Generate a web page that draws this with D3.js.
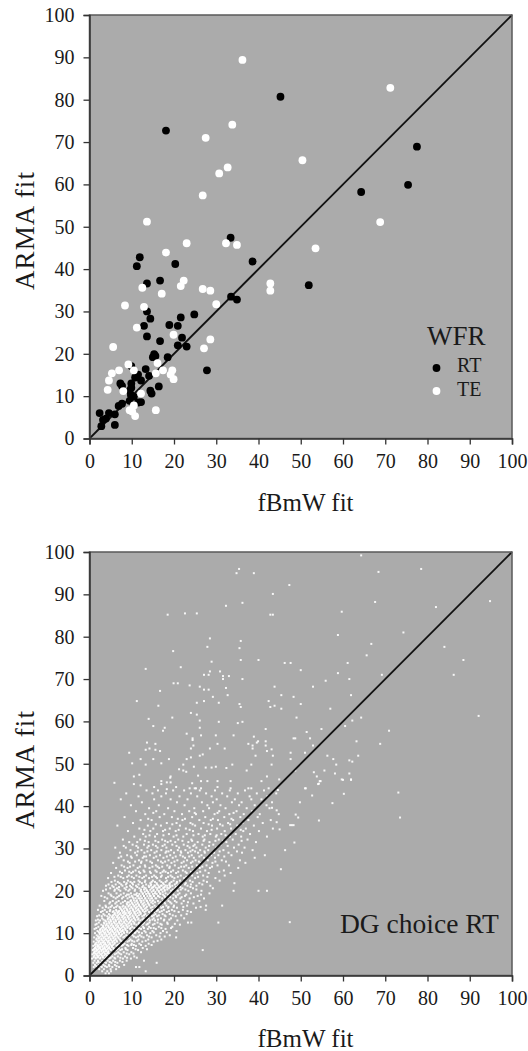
<!DOCTYPE html>
<html><head><meta charset="utf-8">
<script src="https://cdnjs.cloudflare.com/ajax/libs/d3/7.8.5/d3.min.js"></script>
<style>html,body{margin:0;padding:0;background:#fff}svg{display:block}text{font-family:"Liberation Serif",serif;fill:#1a1a1a}</style>
</head><body><svg id="c" width="528" height="1051"></svg>
<script>
const axisTicks = [0,10,20,30,40,50,60,70,80,90,100];
// WFR panel as [fBmW fit, ARMA fit]
const rtPoints = [[33.4,47.4],[38.6,41.8],[11.9,42.8],[11.2,40.7],[20.3,41.2],[13.6,36.6],[16.7,37.3],[33.5,33.5],[34.9,32.8],[13.6,30],[14.4,28.3],[24.8,29.3],[21.6,28.6],[18.9,26.8],[20.9,26.6],[12.9,26.6],[13.6,24.1],[16.7,23],[21.9,23.8],[20.9,22],[23,21.7],[15.3,19.9],[15,19.2],[15.6,19.5],[18.5,19.2],[27.8,16.1],[13.3,16.4],[9.9,17.1],[14.1,14.8],[11.5,15.1],[10.8,14.4],[12.2,13.7],[7.3,13],[7.7,12.4],[9.9,13],[9.9,12],[9.5,11.3],[16.4,12.3],[14.4,11.3],[14.7,10.6],[9.8,10.3],[9.5,8.9],[12.2,8.6],[11.5,8.5],[7.7,8.2],[6.9,7.7],[6,5.7],[4.6,6],[2.4,6],[3.9,4.7],[3.2,4.4],[2.8,2.9],[6,3.2],[10.5,9.9],[45.2,80.7],[18.1,72.7],[77.5,68.9],[75.4,59.9],[64.3,58.2],[51.9,36.2]];
const tePoints = [[13.6,51.2],[23,46.1],[32.3,46.1],[34.9,45.7],[18.1,43.9],[22.3,37.3],[21.6,36],[12.5,35.6],[26.8,35.3],[28.6,34.9],[17.1,34.2],[8.4,31.4],[12.9,31.1],[30,31.7],[42.8,36.6],[42.8,34.9],[11.2,26.2],[19.9,24.5],[28.6,23.4],[27.1,21.3],[5.6,21.6],[9.2,17.5],[16.1,17.8],[7,16.1],[5.3,15.4],[10.5,16.1],[17.4,16.1],[19.6,16.1],[15.7,15.4],[19.2,15.1],[19.9,14],[4.6,13.7],[4.3,11.5],[8,11.2],[12.2,10.6],[15.7,6.7],[10.5,7.8],[9.5,6.7],[10.1,6.4],[10.8,5.3],[36.2,89.4],[71.2,82.8],[33.8,74.1],[27.5,71],[50.4,65.7],[32.7,64],[30.7,62.6],[26.8,57.4],[68.8,51.1],[53.5,44.9]];
// DG choice panel: sparse points, read one by one
const dgSparse = [[64.3,99.2],[35.4,96],[34.8,95],[38.9,95],[68.4,95.3],[78.5,96],[47.3,92.2],[43.4,90.1],[67.6,88.2],[94.8,88.4],[36.2,88],[32.3,87.3],[82,87],[59.7,85.9],[18.5,85.2],[22.6,85.5],[25.4,85.5],[42.8,85.2],[43.4,85.2],[74.3,81],[58.8,80.4],[28.5,79.6],[35.8,79],[66.7,78.3],[27.9,77.6],[35.5,77.3],[84,77.6],[19.8,76.6],[65.6,75.6],[35.8,74.5],[40,74.5],[88.5,74.5],[28.9,74.1],[46.2,73.8],[47.6,73.8],[61.1,73.8],[21.6,72.8],[13.3,72.4],[50,72.1],[28.5,71.8],[30.9,71.8],[27.1,71],[28.2,71],[58.8,71.4],[86.2,71],[69.2,71],[31.6,70.7],[33,70.7],[31.6,70],[61.5,70],[36.2,70],[55.9,69.6],[19.9,69],[20.9,69],[23.7,68.5],[26.1,68.2],[32.3,67.9],[43.8,68.2],[52.9,68.2],[27.1,67.5],[28.2,67.5],[16.7,67.2],[45.4,66.2],[32.7,66.2],[29.2,65.8],[61.9,66.2],[48.3,65.8],[11.2,64.8],[25.4,64.4],[27.1,64.8],[30.6,64.4],[42.4,64.8],[50,64.1],[35.5,64.1],[35.8,63.4],[16.3,63.7],[42.8,63.4],[43.8,63.7],[45.4,63],[57,63],[24,62],[25.4,61.6],[92.1,61.3],[19.6,60.9],[49,60.9],[64.3,60.9],[14,60.6],[26.1,60.2],[30.6,59.9],[36.2,59.9],[35.1,59.6],[62.2,60.2],[15.1,58.9],[60.5,58.9],[26.1,58.5],[17.8,58.5],[17.4,57.8],[41.7,58.2],[54.9,58.2],[70.9,57.8],[51.4,57.5],[23,57.1],[26.4,56.7],[29.9,56.7],[34.1,56.7],[38.9,56.4],[24.4,56],[24.4,55.6],[48.3,56],[48.7,56],[52.2,56],[39.9,55.3],[41.7,55.3],[63.2,55.3],[39.6,55],[13.6,55],[37.6,54.7],[15.6,54.7],[30.3,54.7],[38.6,54.3],[68.8,54.7],[24.6,54.3],[52.9,54.3],[41.7,54.3],[14.2,53.6],[13.3,53.3],[15.6,53.3],[24,53.6],[28.5,53.6],[32,53.6],[38.6,53.6],[42,53],[43.1,53.4],[16.7,53],[9.4,52.6],[47.6,52.6],[51,52.6],[26.8,52.2],[26.1,51.9],[39.3,51.9],[43.4,51.9],[56.3,51.9],[63.6,51.9],[12.1,51.1],[15.1,51.1],[18.8,51.1],[23,51.1],[24,51.5],[47.6,51.1],[57.7,51.1],[61.5,50.8],[62.2,50.5],[10.1,50.1],[13.3,49.8],[17,50.1],[22.2,49.8],[33.8,49.8],[38.3,49.8],[43.1,49.8],[58.4,49.8],[24.7,49.3],[27.5,49.1],[28.9,49.1],[29.9,49.3],[32.4,49],[21.2,48.7],[22.2,48.4],[22.9,48.1],[37.2,48.4],[48.7,48.4],[55.6,48.4],[53.1,48],[58.1,47.7],[61.5,47.7],[10.5,47],[11.8,47.4],[19.2,47],[25.7,47.2],[42,47],[53.8,47],[19.1,46.7],[59.7,46.3],[61.9,46.3],[44.9,46.3],[17,45.9],[19.2,45.6],[18.3,45.6],[26.4,45.9],[27.9,45.9],[30.3,45.9],[33.4,45.9],[40.7,45.9],[54.5,45.9],[5.9,45.5],[10.5,45.2],[24.3,45.4],[54.1,45.2],[12.1,44.9],[17,45.2],[15.3,44.5],[20.5,44.5],[30.3,44.5],[26.4,44.2],[24.9,44.2],[25.2,44.2],[23.7,44.2],[33.4,44.2],[37.6,44.2],[38.3,44.2],[42.4,44.2],[51,44.2],[18.3,44],[73.1,43.2],[73.5,37.3],[60.2,42.9],[57.5,40.7],[54.3,36.6],[52.7,42.5],[51.2,44.2],[54.3,45.3],[54.7,45.9],[60,46.2],[61.9,46.2],[49.8,40.9],[48.8,38],[49.4,37.3],[43.2,39.6],[44.3,39],[44.3,36.2],[47.5,35.5],[47.9,35.5],[48.3,35.5],[45,34.5],[48.5,31.4],[46.3,29.6],[45.3,25.1],[47.4,12.6],[44.6,43.8]];
// DG choice panel: crowded part, estimated by eye row by row as [ARMA fit, fBmW fit, fBmW fit, ...]
const dgRows = [
[43.7,13.5,16.2,19.8,22.4,26.1,29.7,33.2,36.8,41.3],[43,8.7,14.9,18.1,24,27.6,31.4,35.1,39.6,44.2],[42.3,11.6,17,21.3,25.5,28.9,32.6,37.9,42.1],[41.6,7.4,15.3,19.2,23.2,30.1,34.4,38.3,40.7],[40.9,12.4,20.7,26.6,29.2,33.7,36,43.2],[40.2,9.8,16.4,22.5,27.9,31,35.4,39.1,41.9],[39.5,14.1,18.6,24.8,28.3,32.2,37.2,42.6],[38.8,11,15.8,20.1,23.6,26.9,30.7,34.8,38.5],[38.1,13.2,17.7,21.9,25.2,29.6,33.1,36.5,40.3,44.8],[37.4,8.3,16.6,19.5,24.3,27.4,31.9,35.7,39.8],[36.7,12.1,14.7,22,26,28.7,30.4,34,37.6,42.9],[36,10.3,18.3,20.6,23.9,27,32.8,36.2,41],[35.4,6.6,13.8,16.9,21.4,25,29,31.5,35,38.9],[34.7,11.8,15.1,19,22.8,26.4,30.2,33.5,37,43.4],[34.1,9.1,14.4,17.4,20.4,24.5,27.8,32,36.4,40.1],[33.4,12.7,16,18.8,23,25.8,28.6,31.2,34.6,38],[32.8,10.6,13.3,15.5,19.9,22.2,26.8,29.9,33.2,35.9,42],[32.1,7.9,12,17.2,21,24.1,27.2,30.6,33.9,37.4],[31.5,9.4,11.3,14,16.3,18.5,20.3,23.4,25.6,28.4,32.4,39.4],[30.9,10.2,12.9,15,17.8,19.6,22.3,24.9,26.7,29.3,31,35.3],[30.2,6.1,8.6,11.5,13.7,16.1,18.2,21.2,23.7,25.3,27.5,30,34.2,36.7],[29.6,9.7,12.3,14.6,17,19.3,20.9,22.7,24.4,26.2,28.1,31.7,38.6],[29,7.2,10.8,13,15.4,18,20,21.7,23.3,25.7,27.3,29.5,32.9,36.1],[28.4,8.9,11.2,14.3,16.7,19.1,21.5,24.2,26.5,28.8,30.5,33.6,41.5],[27.8,6.9,10,12.6,15.2,17.5,19.7,22.6,24.7,27.1,29.7,39.1],[27.2,8.1,11.7,13.5,16.2,18.7,20.8,23.1,25.1,28,31.3,35.6],[26.6,5.6,9.5,12.2,14.8,17.3,19.4,21.8,24,26.3,29.1,36.9],[26,7.6,10.4,13.1,15.7,18.4,20.2,22.9,25.4,27.7,30.3,33],[25.4,6.3,9,11.4,14.2,16.5,18.9,21.1,23.5,26.1,28.5,35.2],[24.8,8.4,10.9,12.8,15.6,17.6,19.8,22.1,24.6,27.4,31.8],[24.2,5.1,7.7,9.9,12,14.5,16.8,18.6,20.5,23,25.5,28.2,33.4],[23.6,6.8,9.3,11.1,13.4,15.3,17.1,19.2,21.6,24.3,26.9,32],[23,4.4,8,10.5,12.5,14.1,16,18.1,20.1,22.4,25,29.8],[22.4,6,9.1,11.6,13.2,15,16.6,18.3,19.9,21.4,23.8,27,30.8],[21.8,7.1,8.8,10.1,12.4,14.4,15.9,17.4,19,20.6,22.8,26,34.3],[21.2,3.9,5.4,7.8,9.6,11,12.7,14,15.4,16.9,18.4,19.6,21,23.2,25.3,28.6],[20.6,4.9,6.5,8.3,10.2,11.8,13.3,14.7,16.1,17.5,18.8,20.3,22,24.5,29.2],[20,3.2,5.9,7.3,9.2,10.7,12.1,13.6,15.1,16.4,17.8,19.3,20.9,23.4,26.5,34.1,40,42],[19.4,4.5,6.4,8.1,9.8,11.2,12.6,13.9,15.5,16.7,18,19.1,21.3,24,28.4],[18.8,2.8,5.2,7,8.6,10,11.5,12.9,14.3,15.2,16.3,17.7,18.9,20.4,22.6,25.6],[18.2,4.2,6.2,7.7,9,10.4,11.9,13.2,14.6,15.8,17.2,18.5,19.8,21.5,23.7,27.1],[17.6,3.5,5.5,6.9,8.4,9.7,11.1,12.3,13.6,14.9,16.2,17.4,18.7,20.2,22.3,26],[17,4.7,6.1,7.4,8.8,10.1,11.4,12.7,13.9,15,16.5,17.9,19.4,21.8,24.6],[16.5,2.4,3.8,5.3,6.6,8,9.3,10.6,11.7,12.9,14.2,15.4,16.7,18.2,20,23.1,27.6,31.4],[16,3.1,4.5,5.8,7.2,8.5,9.9,11,12.2,13.4,14.5,15.7,17,18.6,20.7,25.2],[15.5,2,3.6,4.9,6.3,7.6,8.9,10.3,11.5,12.6,13.7,14.9,16.2,17.6,19.5,22.1,27.5],[15,2.7,4.1,5.5,6.8,8.2,9.4,10.7,11.9,13,14.1,15.3,16.6,18.3,21.1,24],[14.5,3.3,4.6,5.9,7.1,8.4,9.6,10.9,12.1,13.2,14.4,15.6,17.3,19,23],[14,1.8,2.9,4.2,5.4,6.6,7.9,9.1,10.2,11.3,12.5,13.6,14.8,16,18,20.4],[13.5,3,4.4,5.6,6.9,8.1,9.3,10.5,11.6,12.8,14,15.2,16.9,19.3,22.4],[13,1.5,2.5,3.7,5,6.2,7.4,8.6,9.8,10.9,12,13.1,14.3,15.5,17.6,20.8],[12.5,2.2,3.4,4.7,5.8,7,8.2,9.4,10.6,11.7,12.9,14.2,16.1,18.4,23.3,24.1,30.5],[12,1.4,2.8,4,5.2,6.4,7.6,8.8,9.9,11.1,12.3,13.5,15,17.1,21.4],[11.5,2.1,3.2,4.5,5.6,6.7,7.9,9,10.1,11.4,12.7,14.1,16.4,19.6],[11,1.2,2.6,3.8,5,6.1,7.3,8.5,9.6,10.8,12.2,13.8,15.7,18],[10.5,1.9,3.1,4.3,5.4,6.6,7.7,8.9,10,11.3,13,14.9,17.4,20.6],[10,1.3,2.4,3.6,4.8,5.9,7,8.2,9.5,10.7,12.4,14.4,16.8],[9.5,1.7,3,4.1,5.2,6.3,7.5,8.7,10.2,11.9,13.6,15.8,19],[9,1.1,2.3,3.4,4.6,5.7,6.8,8,9.3,11,12.8,14.7,20.5],[8.5,1.6,2.8,3.9,5,6.1,7.2,8.4,9.7,11.6,13.9,17],[8,1,2.2,3.3,4.4,5.5,6.5,7.7,9,10.6,12.5,15.2],[7.5,1.4,2.6,3.7,4.8,5.9,7.1,8.3,10,11.8,14],[7,0.9,2,3.1,4.2,5.3,6.4,7.6,9.2,11,13.3],[6.5,1.3,2.4,3.5,4.6,5.7,6.9,8.5,10.3,12.6],[6,0.8,1.8,2.9,4,5.1,6.2,7.3,9,11.5,26.8],[5.5,1.1,2.2,3.3,4.4,5.6,6.8,8.1,9.9,12.2],[5,0.7,1.6,2.7,3.8,4.9,6,7.5,9.4],[4.5,1,2,3.1,4.2,5.4,6.7,8.4,10.6],[4,0.6,1.5,2.5,3.6,4.7,6.1,7.9,9.8],[3.5,1.2,2,3,4.3,5.6,7.2,8.8,12.9],[3,0.9,1.7,2.6,3.9,5.2,6.6,15.9],[2.5,1.3,2.2,3.3,4.6,6,8.2],[2,1,1.8,2.9,4.1,5.4,7,11,11.8],[1.5,2.3,3.4,5,6.3],[1,3,4.2,5.1,13.3],[0.5,3.8,4.6]];
// white core just above the diagonal, estimated by eye the same way
const dgCoreRows = [
[4.25,1,1.5,2,2.6,3.2,3.9],[4.75,1.2,1.8,2.3,2.9,3.5,4.1],[5.25,1,1.4,1.9,2.4,3,3.6,4.2],[5.75,1.3,1.7,2.3,2.8,3.4,3.9,4.5],[6.25,1.1,1.6,2.1,2.6,3.2,3.7,4.3,4.9],[6.75,1.5,2,2.5,3,3.6,4.1,4.7,5.3],[7.25,1.3,1.8,2.3,2.8,3.4,3.9,4.5,5,5.6],[7.75,1.6,2.1,2.7,3.2,3.7,4.3,4.8,5.4,6],[8.25,1.9,2.4,3,3.5,4.1,4.6,5.2,5.8,6.4],[8.75,1.7,2.2,2.8,3.3,3.8,4.4,5,5.6,6.2,6.9],[9.25,2,2.6,3.1,3.7,4.2,4.8,5.4,6,6.6,7.3],[9.75,2.4,2.9,3.5,4,4.6,5.2,5.8,6.4,7,7.7],[10.25,2.2,2.7,3.3,3.8,4.4,5,5.6,6.2,6.8,7.4,8.1],[10.75,2.5,3.1,3.6,4.2,4.8,5.4,6,6.6,7.2,7.9,8.5],[11.25,2.9,3.4,4,4.6,5.2,5.8,6.4,7,7.6,8.3,9],[11.75,3.2,3.8,4.4,5,5.6,6.2,6.8,7.4,8.1,8.7,9.4],[12.25,3.5,4.1,4.7,5.3,6,6.6,7.2,7.8,8.5,9.2,9.9],[12.75,3.9,4.5,5.1,5.7,6.3,7,7.6,8.2,8.9,9.6,10.3],[13.25,4.3,4.9,5.5,6.1,6.7,7.3,8,8.6,9.3,10,10.8],[13.75,4.7,5.3,5.9,6.5,7.1,7.7,8.4,9,9.7,10.5,11.2],[14.25,5.6,6.2,6.8,7.5,8.1,8.8,9.5,10.2,10.9,11.7],[14.75,6,6.6,7.3,7.9,8.6,9.2,9.9,10.6,11.4,12.1],[15.25,6.4,7,7.7,8.3,9,9.7,10.4,11.1,11.8,12.6],[15.75,7.4,8.1,8.8,9.5,10.2,10.9,11.6,12.3,13.1],[16.25,7.8,8.5,9.2,9.9,10.6,11.3,12,12.8,13.6],[16.75,8.9,9.6,10.3,11,11.7,12.5,13.3,14.1],[17.25,9.3,10,10.7,11.4,12.2,13,13.8,14.6],[17.75,9.8,10.5,11.2,12,12.8,13.5,14.3,15.1],[18.25,10.9,11.6,12.4,13.2,14,14.8,15.6],[18.75,11.3,12.1,12.9,13.7,14.5,15.3,16.2],[19.25,11.8,12.6,13.4,14.2,15,15.9,16.8],[19.75,12.3,13.1,13.9,14.7,15.6,16.4,17.3],[20.25,13.5,14.4,15.2,16,16.9,17.8],[20.75,13,14.9,15.7,16.6,17.5,18.4],[21.25,14.5,15.4,16.3,17.1,18,19]];
// further eye estimates with uneven gaps, between the rows above
const dgExtraRows = [
[38.4,15.1,24.9,30.3,34.1],[37,13.9,20.9,22.6,29.2,33.6],[35.7,15.7,19.6,24.4,28.2,30.9,33.3],[34.4,13,17.9,21.1,23.7,28.9,35.8],[33.1,14.2,17.5,20.6,24.6,27.3,30.1,32.2],[31.8,13.1,15.6,17.9,19.2,22,24.3,27,29.8,31.6,36],[30.6,8.1,11.1,14,15.7,17.3,20.6,23.2,24.6,28.3,32.7],[29.3,11.4,13.7,15.9,18.2,18.7,21.6,23.9,25,27.2,30.8,34.9],[28.1,7.5,9.8,12.9,13.4,15.8,18.3,20.4,22.1,23.6,26,28.2,31.9],[26.9,9.1,10.8,12.3,14.4,16.9,17.9,20.1,22.3,24.4,25.9,29.8,32.3],[25.7,8.2,9.6,11.9,13.2,14.9,16.1,17.2,19,21.7,22.4,24.3,26.7,29],[24.5,7.2,9.4,10.3,11.7,13,14.3,15.9,17.3,18,19.3,21,22.7,24,26.2,30.7],[23.3,5.9,7.4,8.9,10,11.8,12.9,14.8,15.7,16.9,18.6,19.6,20.9,22.9,25.7,27.9],[22.1,5.2,6.7,8.2,9.7,10.6,11.9,13.1,14.7,15.5,17,18,19.4,20.7,22.1,24.4,27.8],[21.5,4.5,6.2,7.5,8.6,10.3,11.6,13.4,14.6,16,17.6,18.9,20.2,22.6,24,26.7],[20.9,5.7,7,8.8,9.9,11.3,12.5,14.1,15.1,16.5,17.8,19.1,20.5,21.5,23.9],[20.3,3.9,6,6.9,8.6,9.5,10.8,12.2,12.9,17.1,18.4,19.7,21.6,22.7,25.3],[19.1,5,7.4,8.9,9.3,10.6,11,17.4,18.6,19.9,20.9,22.9,26.4],[18.5,3.6,5.7,6.6,8,9.5,10.2,16.6,17.9,19.1,20.5,21.8,24.7],[17.3,4.9,6.4,7.9,9,15.5,16.8,17.7,19.1,20.6,23.3],[16.2,3.9,5,6.3,7.1,14.9,16,17.4,18.7,19.9,22.2,26.3],[15.2,3.1,4.8,5.7,13.3,14.7,15.9,17.1,18.8,20.1,23.2],[14.2,2.3,3.6,4.9,12.9,14,15.2,16.4,17.8,19.7,21.7],[13.2,2,3.3,11.5,12.5,13.6,14.9,16.2,17.7,18.9],[12.2,1.7,10.6,11.6,12.6,13.8,15.4,16.8,18.5,20.2],[11.2,1.6,9.7,10.6,11.7,12.9,14.5,15.2,17,19.3],[10.2,8.9,9.9,10.9,11.7,13.3,15.2,18.3],[9.2,8.3,9.1,10.5,11.5,12.3,14.1,16.6,17.8],[8.2,7.4,8.3,9.4,10.1,11.3,13.3,16.1],[7.2,6.7,7.9,8.9,9.9,10.5,12.2,14.7],[6.2,5.7,6.6,7.7,8.6,10.9,13.6],[5.2,4.6,5.3,6.4,7.1,8.8,10.4],[4.2,4.2,5,5.9,7.3,8.9,11.2],[3.2,2.1,3.4,4.8,6.1,7.8],[2.2,1.6,2.4,3.7,4.7,6.4]];

const rowsToPairs = rows => rows.flatMap(r => r.slice(1).map(x => [x, r[0]]));
const dgPoints = dgSparse.concat(rowsToPairs(dgRows), rowsToPairs(dgCoreRows), rowsToPairs(dgExtraRows));

const svg = d3.select("#c");
const x = d3.scaleLinear().domain([0,100]).range([89.5,512]);

function panel(y0, y1){
  const y = d3.scaleLinear().domain([0,100]).range([y0,y1]);
  const g = svg.append("g");
  g.append("rect").attr("x",x(0)).attr("y",y(100)).attr("width",x(100)-x(0)).attr("height",y(0)-y(100)).attr("fill","#ababab");
  return {g,y};
}
function frame(p){
  const {g,y} = p;
  g.append("rect").attr("x",x(0)).attr("y",y(100)).attr("width",x(100)-x(0)).attr("height",y(0)-y(100))
    .attr("fill","none").attr("stroke","#5a5a5a").attr("stroke-width",1.5);
  const ax = g.append("g").attr("transform",`translate(0,${y(0)})`)
    .call(d3.axisBottom(x).tickValues(axisTicks).tickSize(6).tickPadding(9.5).tickFormat(d3.format("d")));
  const ay = g.append("g").attr("transform",`translate(${x(0)},0)`)
    .call(d3.axisLeft(y).tickValues(axisTicks).tickSize(6).tickPadding(9).tickFormat(d3.format("d")));
  [ax,ay].forEach(a=>{
    a.select(".domain").attr("stroke","#333").attr("stroke-width",1.5);
    a.selectAll(".tick line").attr("stroke","#333").attr("stroke-width",1.3);
    a.selectAll("text").attr("font-family","Liberation Serif").attr("font-size",20).attr("fill","#1a1a1a");
  });
}
function diagonal(p){
  p.g.append("line").attr("x1",x(0)).attr("y1",p.y(0)).attr("x2",x(100)).attr("y2",p.y(100))
    .attr("stroke","#111").attr("stroke-width",1.8);
}
function titles(p, cy, bl){
  svg.append("text").attr("x",305.5).attr("y",bl).attr("text-anchor","middle").attr("font-size",25).text("fBmW fit");
  svg.append("text").attr("transform",`translate(34,${cy}) rotate(-90)`).attr("text-anchor","middle").attr("font-size",27)
    .attr("textLength",118).attr("lengthAdjust","spacing").text("ARMA fit");
}

// top panel
const top_ = panel(438.5,15);
diagonal(top_);
top_.g.selectAll(".rt").data(rtPoints).join("circle").attr("cx",d=>x(d[0])).attr("cy",d=>top_.y(d[1])).attr("r",3.9).attr("fill","#000");
top_.g.selectAll(".te").data(tePoints).join("circle").attr("cx",d=>x(d[0])).attr("cy",d=>top_.y(d[1])).attr("r",3.9).attr("fill","#fff");
frame(top_);
titles(top_,231,511);
svg.append("text").attr("x",427).attr("y",345).attr("font-size",27).text("WFR");
svg.append("text").attr("x",457).attr("y",372).attr("font-size",20).text("RT");
svg.append("text").attr("x",457).attr("y",396).attr("font-size",20).text("TE");
svg.append("circle").attr("cx",436.5).attr("cy",368).attr("r",3.9).attr("fill","#000");
svg.append("circle").attr("cx",436.5).attr("cy",391).attr("r",3.9).attr("fill","#fff");

// bottom panel
const bot = panel(975.5,552);
bot.g.selectAll(".dg").data(dgPoints).join("rect")
  .attr("x",d=>x(d[0])-1).attr("y",d=>bot.y(d[1])-1).attr("width",2).attr("height",2).attr("fill","#fff").attr("fill-opacity",0.9);
diagonal(bot);
frame(bot);
titles(bot,770,1047);
svg.append("text").attr("x",340).attr("y",933).attr("font-size",27.5).text("DG choice RT");
</script></body></html>
